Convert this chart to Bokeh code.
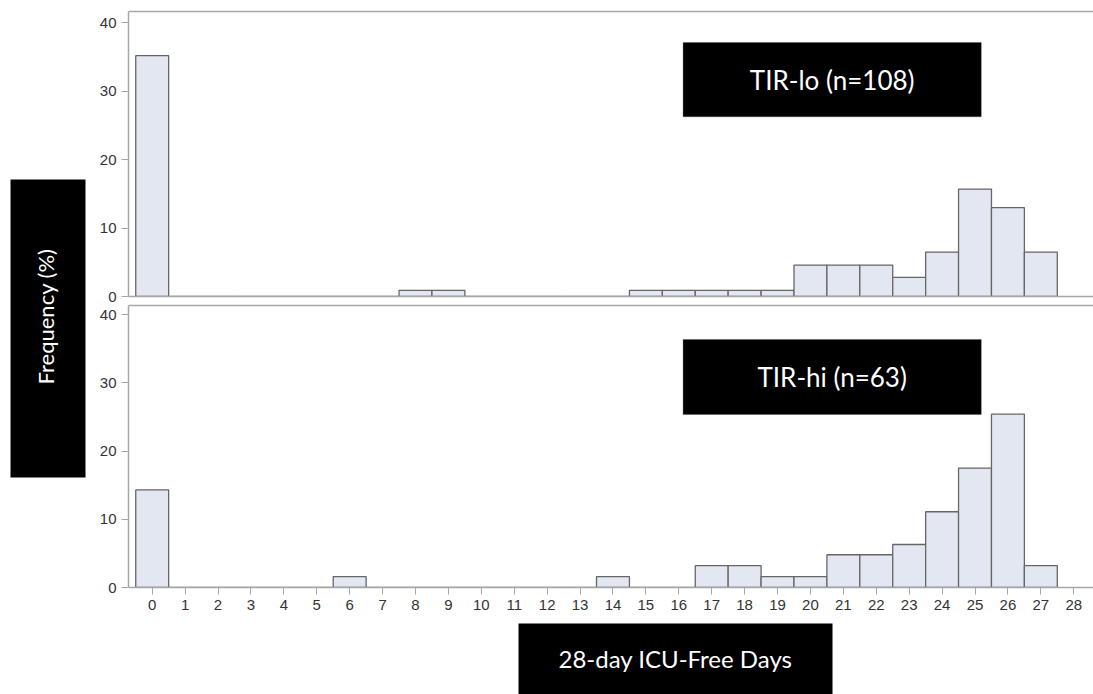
import math
from bokeh.plotting import figure
from bokeh.models import Range1d, FixedTicker, LinearAxis, BoxAnnotation, Label
from bokeh.layouts import row, column
from bokeh.embed import file_html
from bokeh.resources import INLINE

# ---- data (percent of patients per 28-day ICU-free-day bin) ----
days = list(range(28))
tir_lo_pct = [35.2, 0, 0, 0, 0, 0, 0, 0, 0.9, 0.9, 0, 0, 0, 0, 0,
              0.9, 0.9, 0.9, 0.9, 0.9, 4.6, 4.6, 4.6, 2.8, 6.5, 15.7, 13.0, 6.5]
tir_hi_pct = [14.3, 0, 0, 0, 0, 0, 1.6, 0, 0, 0, 0, 0, 0, 0, 1.6,
              0, 0, 3.2, 3.2, 1.6, 1.6, 4.8, 4.8, 6.3, 11.1, 17.5, 25.4, 3.2]
x_ticks = list(range(29))
y_ticks = [0, 10, 20, 30, 40]
panel_titles = ["TIR-lo (n=108)", "TIR-hi (n=63)"]
x_title = "28-day ICU-Free Days"
y_title = "Frequency (%)"

BAR_FILL = "#e2e7f1"
BAR_LINE = "#666666"
AXIS_GRAY = "#a6a6a6"
TICK_FONT = "Liberation Sans"
BOX_FONT = "Lato"
RIGHT_W = 1003

x_range = Range1d(-0.72, 28.60)


def make_panel(values, height, border_top, border_bottom, y_end, show_x_labels, box, title):
    p = figure(width=RIGHT_W, height=height, x_range=x_range,
               y_range=Range1d(0, y_end), output_backend="svg",
               toolbar_location=None, min_border_left=38, min_border_right=0,
               min_border_top=border_top, min_border_bottom=border_bottom,
               x_axis_location=None, y_axis_location=None)
    p.outline_line_color = None
    p.xgrid.visible = False
    p.ygrid.visible = False
    p.background_fill_color = "white"
    p.border_fill_color = "white"

    # left axis
    ya = LinearAxis(ticker=FixedTicker(ticks=y_ticks))
    ya.axis_line_color = AXIS_GRAY
    ya.axis_line_width = 1.5
    ya.major_tick_line_color = AXIS_GRAY
    ya.major_tick_out = 7
    ya.major_tick_in = 0
    ya.minor_tick_line_color = None
    ya.major_label_text_font = TICK_FONT
    ya.major_label_text_font_size = "15px"
    ya.major_label_text_color = "#333333"
    ya.major_label_standoff = 5
    p.add_layout(ya, "left")

    # top frame line
    ta = LinearAxis(ticker=FixedTicker(ticks=[]))
    ta.axis_line_color = AXIS_GRAY
    ta.axis_line_width = 1.5
    ta.major_tick_line_color = None
    ta.minor_tick_line_color = None
    ta.major_label_standoff = 0
    p.add_layout(ta, "above")

    # bottom axis
    if show_x_labels:
        xa = LinearAxis(ticker=FixedTicker(ticks=x_ticks))
        xa.major_tick_line_color = AXIS_GRAY
        xa.major_tick_out = 7
        xa.major_tick_in = 0
        xa.major_label_text_font = TICK_FONT
        xa.major_label_text_font_size = "15px"
        xa.major_label_text_color = "#333333"
        xa.major_label_standoff = 5
    else:
        xa = LinearAxis(ticker=FixedTicker(ticks=[]))
        xa.major_tick_line_color = None
        xa.major_label_standoff = 0
    xa.axis_line_color = AXIS_GRAY
    xa.axis_line_width = 1.5
    xa.minor_tick_line_color = None
    p.add_layout(xa, "below")

    p.vbar(x=days, top=values, width=1.0, bottom=0,
           fill_color=BAR_FILL, line_color=BAR_LINE, line_width=1.3)

    l, r, t, b = box
    p.add_layout(BoxAnnotation(left=l, right=r, top=t, bottom=b,
                               fill_color="black", fill_alpha=1.0,
                               line_color="#444444", line_width=1))
    p.add_layout(Label(x=(l + r) / 2, y=(t + b) / 2, text=title,
                       text_align="center", text_baseline="middle",
                       text_color="white", text_font=BOX_FONT,
                       text_font_size="26px"))
    return p


top = make_panel(tir_lo_pct, 303, 11, 7, 41.66, False,
                 (16.13, 25.19, 37.13, 26.27), panel_titles[0])
bot = make_panel(tir_hi_pct, 317, 2, 33, 41.32, True,
                 (16.13, 25.19, 36.34, 25.35), panel_titles[1])


def blank(width, height, xr=None):
    f = figure(width=width, height=height,
               x_range=xr if xr is not None else Range1d(0, width),
               y_range=Range1d(0, height), output_backend="svg",
               toolbar_location=None, min_border=0,
               x_axis_location=None, y_axis_location=None)
    f.outline_line_color = None
    f.xgrid.visible = False
    f.ygrid.visible = False
    f.border_fill_color = "white"
    f.background_fill_color = "white"
    return f


# y-axis title box (spans both panels)
left = blank(90, 694)
left.add_layout(BoxAnnotation(left=10, right=85, top=515, bottom=217,
                              fill_color="black", fill_alpha=1.0, line_color=None))
left.add_layout(Label(x=45, y=378, text=y_title, angle=math.pi / 2,
                      text_align="center", text_baseline="middle",
                      text_color="white", text_font=BOX_FONT,
                      text_font_size="22px"))

# x-axis title box (shares the panels' x scale, frames are aligned)
xlab = blank(RIGHT_W, 74, xr=x_range)
xlab.min_border_left = 38
xlab.add_layout(BoxAnnotation(left=11.13, right=20.67, top=71, bottom=-10,
                              fill_color="black", fill_alpha=1.0, line_color=None))
xlab.add_layout(Label(x=15.9, y=36, text=x_title,
                      text_align="center", text_baseline="middle",
                      text_color="white", text_font=BOX_FONT,
                      text_font_size="24px"))

layout = row(left, column(top, bot, xlab, spacing=0), spacing=0)

open("out.html", "w").write(file_html(layout, INLINE))
